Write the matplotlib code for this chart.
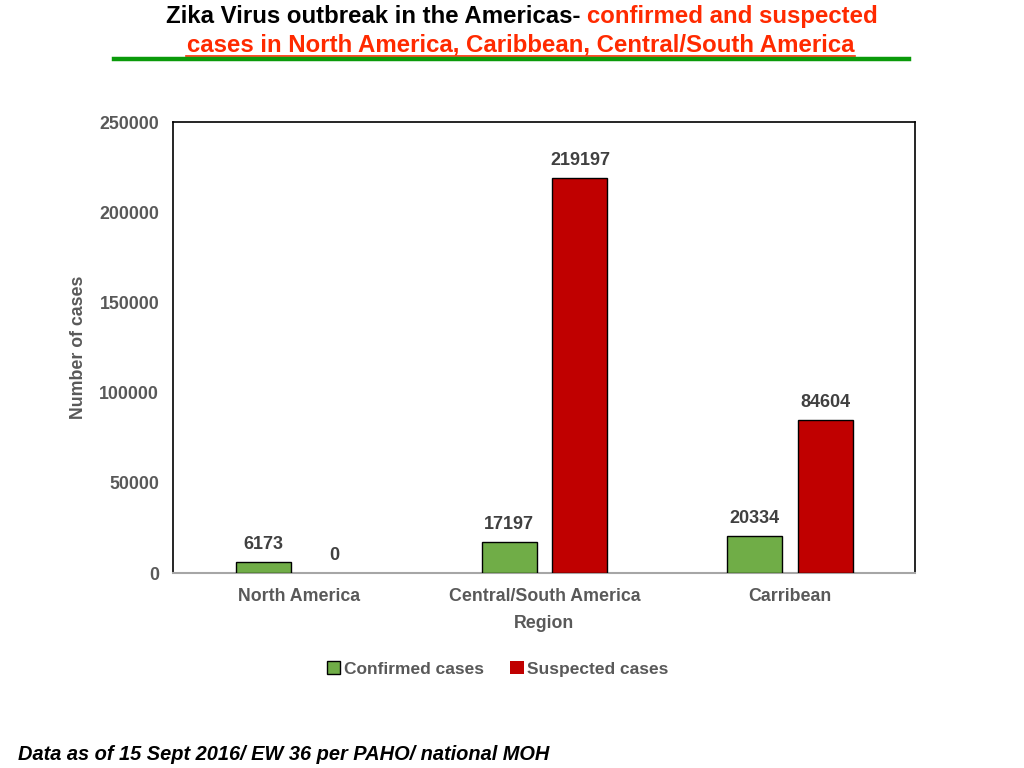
import matplotlib
matplotlib.use("Agg")
import matplotlib.pyplot as plt
import numpy as np

regions = ["North America", "Central/South America", "Carribean"]
confirmed = [6173, 17197, 20334]
suspected = [0, 219197, 84604]
yticks = [0, 50000, 100000, 150000, 200000, 250000]

plt.rcParams['font.family'] = ['Liberation Sans', 'DejaVu Sans']

fig = plt.figure(figsize=(10.24, 7.68), dpi=100)
ax = fig.add_axes([0.169, 0.2539, 0.7246, 0.5872])

x = np.arange(len(regions))
w = 0.224
off = 0.144
green = "#70ad47"
red = "#c00000"
b1 = ax.bar(x - off, confirmed, w, color=green, edgecolor="black", linewidth=1, label="Confirmed cases", zorder=3)
b2 = ax.bar(x + off, suspected, w, color=red, edgecolor="black", linewidth=1, label="Suspected cases", zorder=3)
for rect, v in zip(b2, suspected):
    if v == 0:
        rect.set_linewidth(0)

for rect, v in zip(list(b1) + list(b2), confirmed + suspected):
    ax.text(rect.get_x() + rect.get_width() / 2, v + 5000, str(v), ha="center", va="bottom",
            fontsize=13, fontweight="bold", color="#404040")

ax.set_xlim(-0.512, 2.508)
ax.set_ylim(0, 250000)
ax.set_yticks(yticks)
ax.set_yticklabels([str(t) for t in yticks])
ax.set_xticks(x)
ax.set_xticklabels(regions)
ax.tick_params(axis="both", length=0, labelsize=12.8, labelcolor="#595959")
for lab in ax.get_xticklabels() + ax.get_yticklabels():
    lab.set_fontweight("bold")
ax.tick_params(axis="x", pad=11)
ax.tick_params(axis="y", pad=10)

for s in ["top", "right", "left"]:
    ax.spines[s].set_color("black")
    ax.spines[s].set_linewidth(1.2)
ax.spines["bottom"].set_color("#a6a6a6")
ax.spines["bottom"].set_linewidth(1.5)

ax.set_xlabel("Region", fontsize=12.8, fontweight="bold", color="#595959", labelpad=7)
ax.set_ylabel("Number of cases", fontsize=12.8, fontweight="bold", color="#595959")
ax.yaxis.set_label_coords(-0.116, 0.5)

leg = fig.legend(handles=[b1, b2], loc="center", bbox_to_anchor=(0.486, 0.129), ncol=2, frameon=False,
                 fontsize=12.5, handlelength=0.8, handleheight=0.8, handletextpad=0.2, columnspacing=1.5)
for t in leg.get_texts():
    t.set_color("#595959")
    t.set_fontweight("bold")

tfam = ['Liberation Sans', 'DejaVu Sans']
fig.text(581 / 1024, 0.978, "Zika Virus outbreak in the Americas-", ha="right", va="center", fontsize=17.3,
         fontweight="bold", family=tfam, color="black")
fig.text(587 / 1024, 0.978, "confirmed and suspected", ha="left", va="center", fontsize=17.3,
         fontweight="bold", family=tfam, color="#ff2a00")
fig.text(520.5 / 1024, 0.941, "cases in North America, Caribbean, Central/South America", ha="center", va="center",
         fontsize=17.3, fontweight="bold", family=tfam, color="#ff2a00")
fig.add_artist(plt.Line2D([186 / 1024, 855 / 1024], [1 - 55.5 / 768, 1 - 55.5 / 768], color="#ff2a00",
                          linewidth=1.2, transform=fig.transFigure))
fig.add_artist(plt.Line2D([114 / 1024, 909 / 1024], [1 - 59 / 768, 1 - 59 / 768], color="#0a9a0a",
                          linewidth=3.2, transform=fig.transFigure))

fig.text(0.018, 0.018, "Data as of 15 Sept 2016/ EW 36 per PAHO/ national MOH", ha="left", va="center",
         fontsize=14.4, fontweight="bold", style="italic", color="black")

fig.savefig("out.png", dpi=100)
